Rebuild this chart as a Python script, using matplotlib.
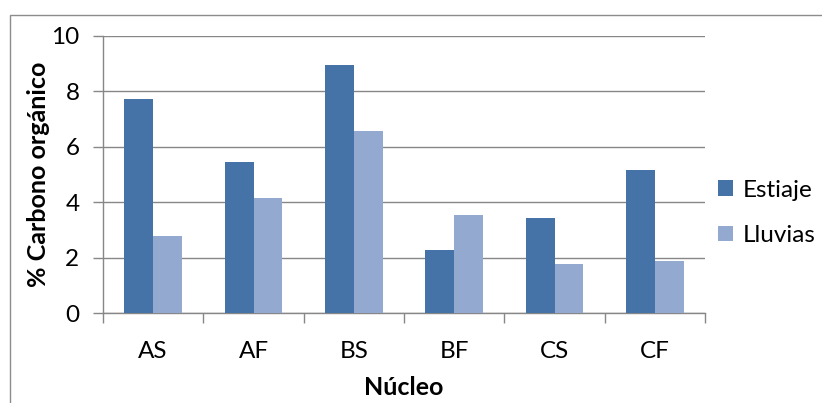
import matplotlib.pyplot as plt
from matplotlib.patches import Rectangle
import numpy as np

# Data
nucleos = ['AS', 'AF', 'BS', 'BF', 'CS', 'CF']
estiaje = [7.74, 5.45, 8.96, 2.26, 3.42, 5.16]
lluvias = [2.77, 4.15, 6.56, 3.55, 1.77, 1.87]

plt.rcParams['font.family'] = ['Lato', 'DejaVu Sans']

W, H = 822, 403
fig = plt.figure(figsize=(W / 100, H / 100), dpi=100)

# outer chart frame (cut off on right and bottom)
fig.patches.append(Rectangle((10 / W, -0.1), 2.0, 1 - 15 / H + 0.1,
                             transform=fig.transFigure, fill=False,
                             edgecolor='#8c8c8c', linewidth=1.0))

ax = fig.add_axes([103 / W, 1 - 313 / H, (705 - 103) / W, (313 - 36) / H])

x = np.arange(len(nucleos))
bw = 0.286
ax.bar(x - bw / 2, estiaje, bw, color='#4573A7', label='Estiaje', zorder=3)
ax.bar(x + bw / 2, lluvias, bw, color='#94A9D0', label='Lluvias', zorder=3)

ax.set_xlim(-0.5, len(nucleos) - 0.5)
ax.set_ylim(0, 10)
ax.set_yticks(range(0, 11, 2))
ax.yaxis.grid(True, color='#878787', linewidth=1.0, zorder=0)

for s in ['top', 'right']:
    ax.spines[s].set_visible(False)
ax.spines['left'].set_color('#878787')
ax.spines['bottom'].set_color('#878787')
ax.spines['left'].set_linewidth(1.0)
ax.spines['bottom'].set_linewidth(1.0)

fs = 17.5
ax.set_xticks(x)
ax.set_xticklabels(nucleos, fontsize=fs)
ax.tick_params(axis='x', length=0, pad=20)
ax.set_xticks(np.arange(-0.5, len(nucleos), 1), minor=True)
ax.tick_params(axis='x', which='minor', length=7, color='#878787', width=1.0)
ax.tick_params(axis='y', length=7, color='#878787', width=1.0, labelsize=fs, pad=10)

ax.set_xlabel('Núcleo', fontsize=18, fontweight='bold', labelpad=10)
ax.set_ylabel('% Carbono orgánico', fontsize=18, fontweight='bold', labelpad=1)

ax.legend(loc='center left', bbox_to_anchor=(1.022, 0.362), frameon=False,
          fontsize=fs, handlelength=0.6, handleheight=0.6, borderpad=0,
          handletextpad=0.4, labelspacing=1.0, borderaxespad=0)

fig.savefig('out.png', dpi=100)
